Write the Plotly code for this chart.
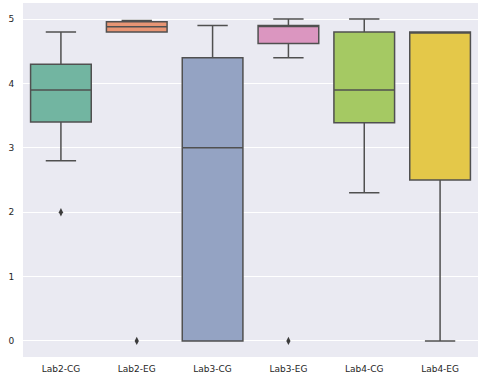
import plotly.graph_objects as go

categories = ["Lab2-CG", "Lab2-EG", "Lab3-CG", "Lab3-EG", "Lab4-CG", "Lab4-EG"]
lower_fence = [2.8, 4.8, 0.0, 4.4, 2.3, 0.0]
q1 = [3.4, 4.8, 0.0, 4.62, 3.39, 2.5]
median = [3.9, 4.88, 3.0, 4.9, 3.9, 4.8]
q3 = [4.3, 4.96, 4.4, 4.9, 4.8, 4.8]
upper_fence = [4.8, 4.98, 4.9, 5.0, 5.0, 4.8]
outlier_cats = ["Lab2-CG", "Lab2-EG", "Lab3-EG"]
outlier_vals = [2.0, 0.0, 0.0]
colors = ["#72b5a1", "#e89574", "#94a3c3", "#db96c0", "#a5c963", "#e4c849"]
y_ticks = [0, 1, 2, 3, 4, 5]

line_col = "rgb(80,80,80)"
fig = go.Figure()
for i, c in enumerate(categories):
    fig.add_trace(go.Box(
        x=[c], q1=[q1[i]], median=[median[i]], q3=[q3[i]],
        lowerfence=[lower_fence[i]], upperfence=[upper_fence[i]],
        fillcolor=colors[i], line=dict(color=line_col, width=1.5),
        whiskerwidth=0.5, boxpoints=False, showlegend=False, width=0.8,
    ))
fig.add_trace(go.Scatter(
    x=outlier_cats, y=outlier_vals, mode="markers",
    marker=dict(symbol="diamond-tall", size=6, color="rgb(60,60,60)"),
    showlegend=False,
))
fig.update_layout(
    width=485, height=378,
    margin=dict(l=23, r=7, t=3, b=21),
    paper_bgcolor="white", plot_bgcolor="#eaeaf2",
    boxmode="overlay",
    font=dict(family="DejaVu Sans", size=9, color="#262626"),
)
fig.update_xaxes(categoryorder="array", categoryarray=categories,
                 range=[-0.5, 5.5], showgrid=False, zeroline=False,
                 automargin=False,
                 ticks="outside", ticklen=3, tickcolor="rgba(0,0,0,0)")
fig.update_yaxes(range=[-0.25, 5.25], tickvals=y_ticks, gridcolor="white",
                 gridwidth=1, zeroline=False, automargin=False,
                 ticks="outside", ticklen=6, tickcolor="rgba(0,0,0,0)")
fig.write_html("out.html", config={"displayModeBar": False},
               post_script="document.body.style.margin='0px';")
